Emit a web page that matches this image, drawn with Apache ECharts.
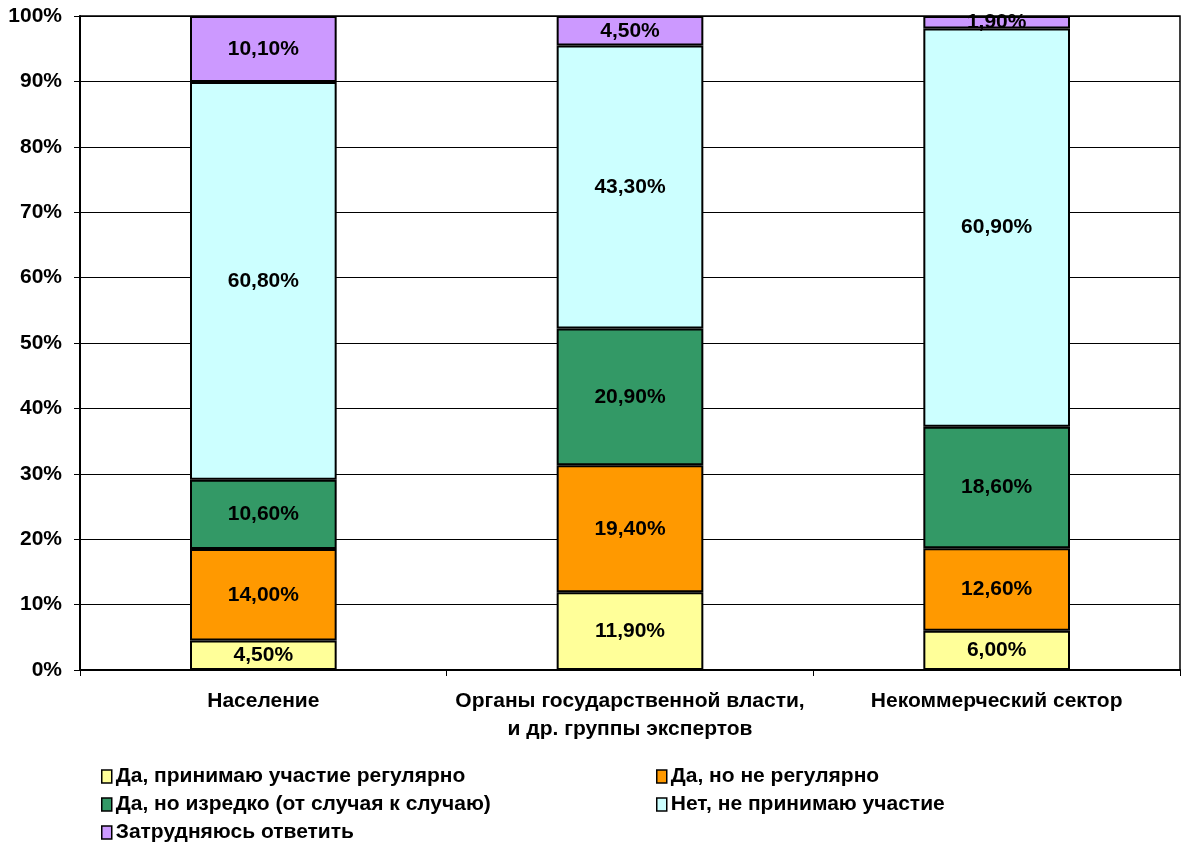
<!DOCTYPE html>
<html><head><meta charset="utf-8">
<script src="https://cdn.jsdelivr.net/npm/echarts@6/dist/echarts.min.js"></script>
<style>html,body{margin:0;padding:0;background:#fff}#c{width:1183px;height:848px}</style>
</head><body><div id="c"></div>
<script>
const categories = ['Население', 'Органы государственной власти,\nи др. группы экспертов', 'Некоммерческий сектор'];
const seriesNames = ['Да, принимаю участие регулярно', 'Да, но не регулярно', 'Да, но изредко (от случая к случаю)', 'Нет, не принимаю участие', 'Затрудняюсь ответить'];
const regular = [4.5, 11.9, 6.0];
const irregular = [14.0, 19.4, 12.6];
const rarely = [10.6, 20.9, 18.6];
const notParticipate = [60.8, 43.3, 60.9];
const hardToSay = [10.1, 4.5, 1.9];
const colors = ['#FFFF99', '#FF9900', '#339966', '#CCFFFF', '#CC99FF'];

const allData = [regular, irregular, rarely, notParticipate, hardToSay];
const font = 'Liberation Sans, Arial, sans-serif';
const chart = echarts.init(document.getElementById('c'));
const series = allData.map((d, i) => ({
  name: seriesNames[i], type: 'bar', stack: 'all', data: d, barWidth: '40%',
  itemStyle: { color: colors[i], borderColor: '#000', borderWidth: 2 },
  label: { show: true, position: 'inside', color: '#000', fontFamily: font, fontWeight: 'bold', fontSize: 21,
    formatter: p => p.value.toFixed(2).replace('.', ',') + '%' },
  emphasis: { disabled: true }
}));
const legendPos = [[101, 766], [656, 766], [101, 794], [656, 794], [101, 822]];
const legends = seriesNames.map((n, i) => ({
  data: [n], left: legendPos[i][0], top: legendPos[i][1], icon: 'rect', itemWidth: 10, itemHeight: 13, itemGap: 4,
  selectedMode: false, padding: 0,
  itemStyle: { borderColor: '#000', borderWidth: 1.5 },
  textStyle: { fontFamily: font, fontWeight: 'bold', fontSize: 21, color: '#000', padding: [0, 0, 0, -1] }
}));
chart.setOption({
  animation: false,
  color: colors,
  grid: { left: 80, right: 3, top: 16, bottom: 178, show: true, borderColor: '#000', borderWidth: 1.5, backgroundColor: 'transparent' },
  legend: legends,
  xAxis: { type: 'category', data: categories,
    axisLine: { lineStyle: { color: '#000', width: 2 } },
    axisTick: { show: true, interval: 0, length: 6, lineStyle: { color: '#000', width: 1 } },
    axisLabel: { interval: 0, hideOverlap: false, margin: 17, color: '#000', fontFamily: font, fontWeight: 'bold', fontSize: 21, lineHeight: 28 } },
  yAxis: { type: 'value', min: 0, max: 100, interval: 10,
    axisLine: { show: true, lineStyle: { color: '#000', width: 2 } },
    axisTick: { show: true, length: 6, lineStyle: { color: '#000' } },
    splitLine: { lineStyle: { color: '#000', width: 1 } },
    axisLabel: { margin: 18, color: '#000', fontFamily: font, fontWeight: 'bold', fontSize: 21, formatter: '{value}%' } },
  series: series
});
</script></body></html>
